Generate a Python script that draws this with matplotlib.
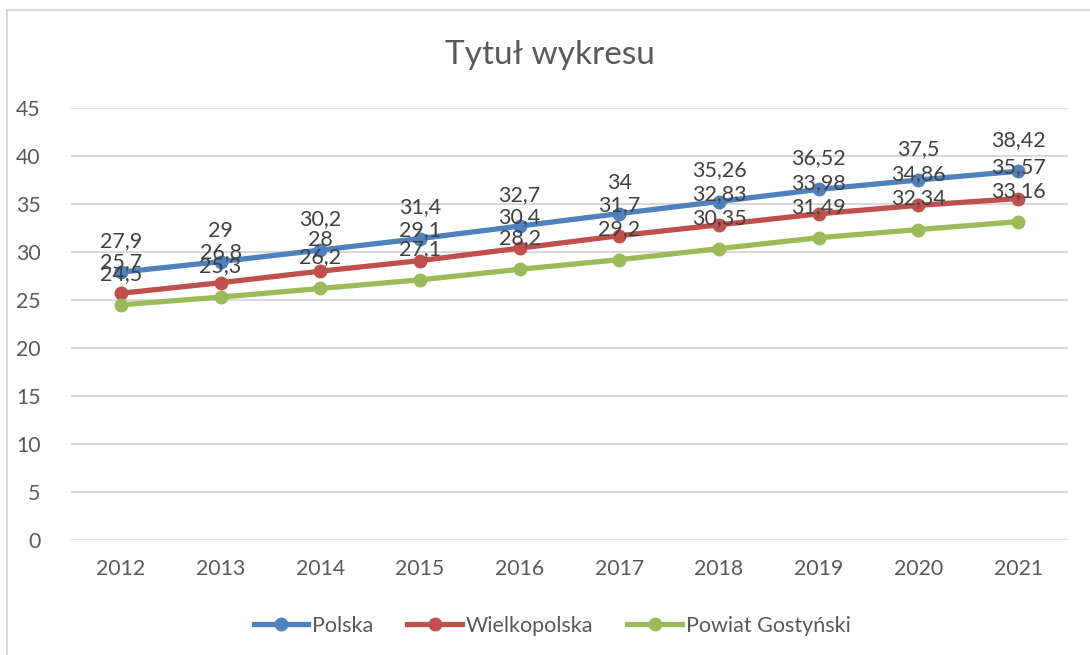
import matplotlib
matplotlib.use('Agg')
import matplotlib.pyplot as plt
from matplotlib.patches import Rectangle

years = ['2012', '2013', '2014', '2015', '2016', '2017', '2018', '2019', '2020', '2021']
polska = [27.9, 29, 30.2, 31.4, 32.7, 34, 35.26, 36.52, 37.5, 38.42]
wielkopolska = [25.7, 26.8, 28, 29.1, 30.4, 31.7, 32.83, 33.98, 34.86, 35.57]
gostynski = [24.5, 25.3, 26.2, 27.1, 28.2, 29.2, 30.35, 31.49, 32.34, 33.16]

series = [('Polska', polska, '#4F81BD'),
          ('Wielkopolska', wielkopolska, '#C0504D'),
          ('Powiat Gostyński', gostynski, '#9BBB59')]

plt.rcParams['font.family'] = ['Lato', 'DejaVu Sans']
txt = '#595959'

fig = plt.figure(figsize=(10.9, 6.55), dpi=100)
ax = fig.add_axes([71/1090, 1-540/655, (1068-71)/1090, (540-108)/655])

# chart border
fig.patches.append(Rectangle((7/1090, -0.1), 1.2, 1-10/655+0.1, transform=fig.transFigure,
                             fill=False, edgecolor='#D9D9D9', linewidth=1.5))

x = range(len(years))
for name, vals, col in series:
    ax.plot(x, vals, color=col, lw=3.8, marker='o', ms=9, label=name, zorder=3)
    for xi, v in zip(x, vals):
        ax.annotate(str(v).replace('.', ','), (xi, v), xytext=(0, 31),
                    textcoords='offset pixels', ha='center', va='center',
                    fontsize=15.5, color='#404040', zorder=4)

ax.set_ylim(0, 45)
ax.set_xlim(-0.5, len(years) - 0.5)
ax.set_yticks(range(0, 46, 5))
ax.set_xticks(list(x))
ax.set_xticklabels(years)
ax.yaxis.grid(True, color='#D9D9D9', lw=1.5)
ax.set_axisbelow(True)
for s in ax.spines.values():
    s.set_visible(False)
ax.tick_params(length=0, labelsize=15.3, labelcolor=txt)
ax.tick_params(axis='y', pad=22)
ax.tick_params(axis='x', pad=14)

fig.text(550/1090, 1-55/655, 'Tytuł wykresu', ha='center', va='center',
         fontsize=24, color=txt)

fig.legend(loc='center', bbox_to_anchor=(552/1090, 1-626/655), ncol=3, frameon=False,
           fontsize=15.5, labelcolor=txt, handlelength=2.55, handletextpad=0.15,
           columnspacing=1.6)

fig.savefig('out.png', dpi=100)
